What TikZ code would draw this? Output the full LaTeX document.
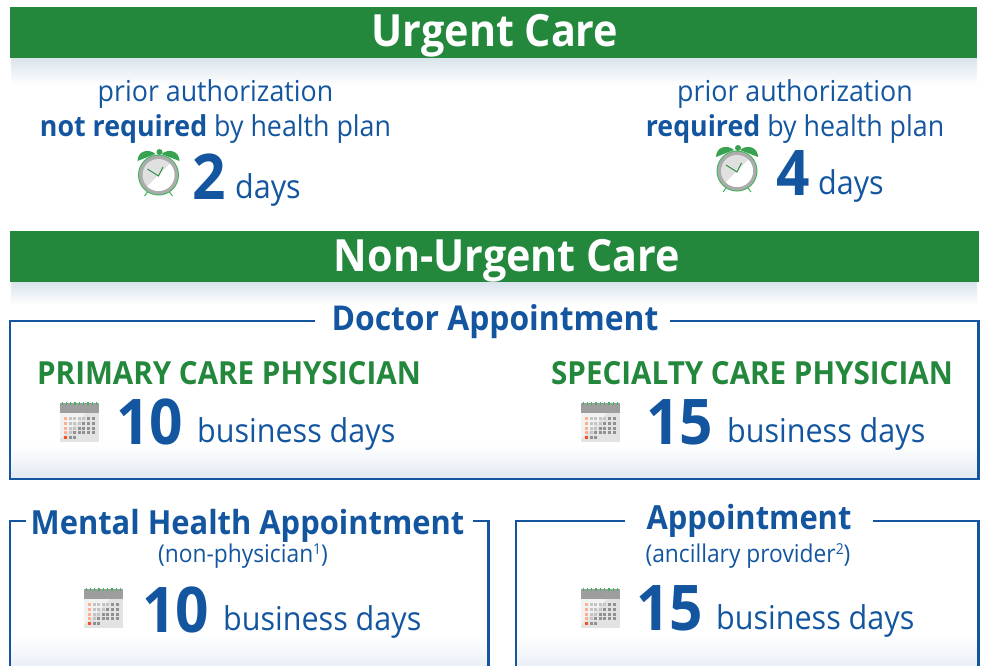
\documentclass[tikz,border=0pt]{standalone}
\usepackage{fontspec}
\setmainfont[FakeStretch=0.93]{Open Sans}
\usetikzlibrary{calc}
\definecolor{bandgreen}{HTML}{23873C}
\definecolor{inkblue}{HTML}{13569F}
\definecolor{fade}{HTML}{DAE4EC}
\definecolor{fadeb}{HTML}{E2E8F2}
\definecolor{clockg}{HTML}{3FB45A}
\definecolor{salmon}{HTML}{FFAE8E}
\definecolor{hotred}{HTML}{F4511E}
\newcommand{\noteref}[1]{\raisebox{8pt}{\fontsize{15}{15}\selectfont #1}}
\tikzset{
 bandtxt/.style={font=\fontsize{44.4}{44.4}\selectfont\bfseries,text=white,inner sep=0pt,anchor=base},
 body/.style={font=\fontsize{28.8}{28.8}\selectfont,text=inkblue,inner sep=0pt,anchor=base},
 unit/.style={font=\fontsize{32.8}{32.8}\selectfont,text=inkblue,inner sep=0pt,anchor=base west},
 small/.style={font=\fontsize{24.5}{24.5}\selectfont,text=inkblue,inner sep=0pt,anchor=base},
 title/.style={font=\fontsize{34.2}{34.2}\selectfont\bfseries,text=inkblue,inner sep=0pt,anchor=base},
 subtitle/.style={font=\fontsize{33.2}{33.2}\selectfont\bfseries,text=inkblue,inner sep=0pt,anchor=base},
 head/.style={font=\fontsize{31.8}{31.8}\selectfont\bfseries,text=bandgreen,inner sep=0pt,anchor=base},
 big/.style={font=\fontsize{63}{63}\selectfont\bfseries,text=inkblue,inner sep=0pt,anchor=base west},
 frame/.style={draw=inkblue,line width=2.8pt},
 pics/alarm/.style={code={
   \fill[clockg!90!black] (-21,-14) .. controls (-21,-24) and (-10,-27) .. (-3,-21) -- cycle;
   \fill[clockg!90!black] (21,-14) .. controls (21,-24) and (10,-27) .. (3,-21) -- cycle;
   \fill[clockg!90!black] (1,-23) circle (3);
   \draw[clockg,line width=1pt] (-11,17) -- (-14,21) (11,17) -- (14,21);
   \fill[clockg] (0,0) circle (20.5);
   \fill[black!33] (0,0) circle (19.5);
   \fill[black!12] (0,0) circle (16);
   \fill[white] (-11.3,11.3) arc (135:-45:16) -- cycle;
   \draw[clockg!80!black,line width=1pt] (-11,-6) -- (0,1) -- (4.5,-8);
 }},
 pics/planner/.style={code={
   \fill[black!11] (0,0) rectangle (39,39);
   \fill[black!5] (0,10) -- (26,10) -- (0,36) -- cycle;
   \fill[black!38] (0,0) rectangle (39,10);
   \foreach \x in {1,...,9} \fill[clockg] ({(\x-0.5)*4.3-0.6},-1.5) rectangle ++(1.2,3);
   \foreach \r in {0,1,2,3,4} \foreach \c in {0,...,6} {
     \pgfmathtruncatemacro{\skipit}{(\r==4 && \c>2)?1:0}
     \pgfmathtruncatemacro{\lightit}{(\r+\c<5)?1:0}
     \ifnum\skipit=0
       \ifnum\c=0
         \ifnum\r=4 \fill[hotred] (4,14.3+\r*4.6) rectangle ++(3,3);
         \else \fill[salmon] (4,14.3+\r*4.6) rectangle ++(3,3); \fi
       \else
         \ifnum\lightit=1 \fill[black!23] (4+\c*4.6,14.3+\r*4.6) rectangle ++(3,3);
         \else \fill[black!43] (4+\c*4.6,14.3+\r*4.6) rectangle ++(3,3); \fi
       \fi
     \fi}
 }},
}
\begin{document}
\begin{tikzpicture}[x=1pt,y=-1pt]
\useasboundingbox (0,0) rectangle (982,665);
% Urgent band
\shade[top color=fade,bottom color=white] (11,58) rectangle (977,85);
\fill[bandgreen] (10,7) rectangle (977,58);
\node[bandtxt] (urgent) at (495,46) {Urgent Care};
\node[body] (pa1) at (215.5,101) {prior authorization};
\node[body] (nr) at (215.5,136) {\textbf{not required} by health plan};
\pic at (158.5,175) {alarm};
\node[big] (two) at (192,199.5) {2};
\node[unit] (d1) at (235,198) {days};
\node[body] (pa2) at (795,101) {prior authorization};
\node[body] (rq) at (795,136) {\textbf{required} by health plan};
\pic at (737,171) {alarm};
\node[big] (four) at (776,195) {4};
\node[unit] (d2) at (818,194) {days};
% Non-urgent band
\shade[top color=fade,bottom color=white] (11,282) rectangle (977,305);
\fill[bandgreen] (10,231) rectangle (979,282);
\node[bandtxt] (nonurgent) at (507,271) {Non-Urgent Care};
% Doctor box
\shade[top color=white,bottom color=fadeb] (10,445) rectangle (978.5,479);
\coordinate (da) at (315,321);\coordinate (db) at (670,321);
\draw[frame] (da) -- (10,321) -- (10,479) -- (978.5,479) -- (978.5,321) -- (db);
\node[title] (doc) at (495,330) {Doctor Appointment};
\node[head] (pcp) at (229,384) {PRIMARY CARE PHYSICIAN};
\node[head] (scp) at (752,384) {SPECIALTY CARE PHYSICIAN};
\pic at (60,403) {planner};
\node[big] (n10) at (116,444) {10};
\node[unit] (bd1) at (197,442) {business days};
\pic at (581,403) {planner};
\node[big] (n15) at (646,444) {15};
\node[unit] (bd2) at (727,442) {business days};
% Mental health
\shade[top color=white,bottom color=fadeb] (10,635) rectangle (488.5,680);
\coordinate (ma) at (26,521);\coordinate (mb) at (473,521);
\draw[frame] (ma) -- (10,521) -- (10,667);
\draw[frame] (mb) -- (488.5,521) -- (488.5,667);
\node[subtitle] (mh) at (247.5,534) {Mental Health Appointment};
\node[small] (np) at (243,562) {(non-physician\noteref{1})};
\pic at (84,589) {planner};
\node[big] (n10b) at (142,632) {10};
\node[unit] (bd3) at (223,630) {business days};
% Ancillary
\shade[top color=white,bottom color=fadeb] (516,635) rectangle (978.5,680);
\coordinate (aa) at (625,521);\coordinate (ab) at (873,521);
\draw[frame] (aa) -- (516,521) -- (516,667);
\draw[frame] (ab) -- (978.5,521) -- (978.5,667);
\node[subtitle] (app) at (749,529) {Appointment};
\node[small] (ap) at (748,562) {(ancillary provider\noteref{2})};
\pic at (581,589) {planner};
\node[big] (n15b) at (636,630) {15};
\node[unit] (bd4) at (716,629) {business days};
\end{tikzpicture}
\end{document}
